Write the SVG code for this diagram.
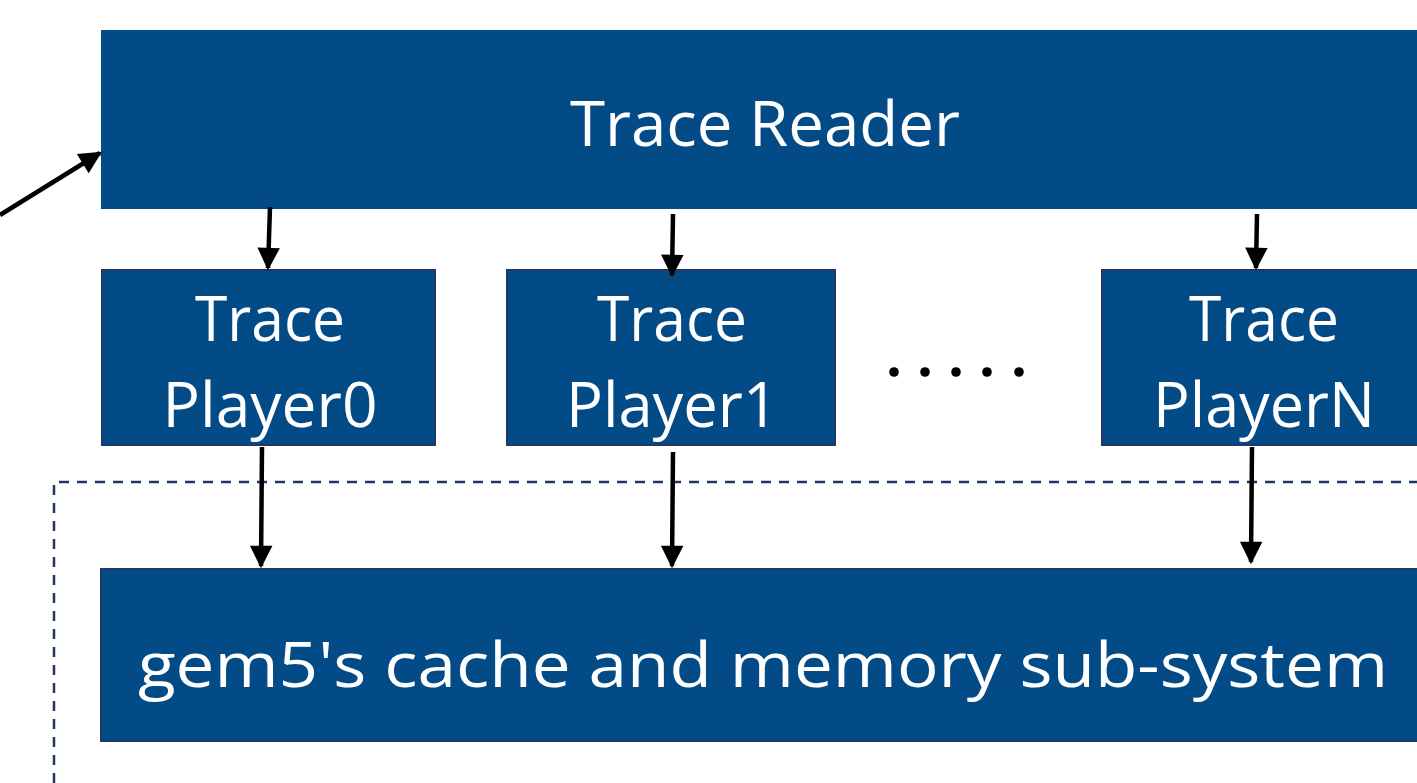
<svg xmlns="http://www.w3.org/2000/svg" width="1417" height="783" viewBox="0 0 1417 783">
<style>
.box{fill:#034B87;stroke:#1F3864;stroke-width:2}
.t{fill:#fff;font-family:"Open Sans","Noto Sans",sans-serif;text-anchor:middle}
.c{stroke:#000;stroke-width:4.5;fill:none;marker-end:url(#ah)}
</style>
<defs>
<marker id="ah" markerWidth="5" markerHeight="5" refX="4.5" refY="2.5" orient="auto" markerUnits="strokeWidth" overflow="visible">
<path d="M0,0 L5,2.5 L0,5 z" fill="#000"/>
</marker>
</defs>
<rect width="1417" height="783" fill="#fff"/>
<g id="subsystem-boundary">
<path d="M54,783 V482 H1417" fill="none" stroke="#1F3864" stroke-width="2.5" stroke-dasharray="10,8"/>
</g>
<g id="trace-reader">
<rect class="box" x="101" y="30" width="1330" height="179" style="stroke:none"/>
<text class="t" x="765" y="146" font-size="63" textLength="390" lengthAdjust="spacingAndGlyphs">Trace Reader</text>
</g>
<g id="player0">
<rect class="box" x="102" y="270" width="333" height="175"/>
<text class="t" x="270" y="341" font-size="63" textLength="150" lengthAdjust="spacingAndGlyphs">Trace</text>
<text class="t" x="270" y="427" font-size="63" textLength="215" lengthAdjust="spacingAndGlyphs">Player0</text>
</g>
<g id="player1">
<rect class="box" x="507" y="270" width="328" height="175"/>
<text class="t" x="672" y="341" font-size="63" textLength="150" lengthAdjust="spacingAndGlyphs">Trace</text>
<text class="t" x="672" y="427" font-size="63" textLength="212" lengthAdjust="spacingAndGlyphs">Player1</text>
</g>
<g id="ellipsis">
<circle cx="894" cy="372" r="4.8" fill="#000"/>
<circle cx="925" cy="372" r="4.8" fill="#000"/>
<circle cx="956" cy="372" r="4.8" fill="#000"/>
<circle cx="987" cy="372" r="4.8" fill="#000"/>
<circle cx="1019" cy="372" r="4.8" fill="#000"/>
</g>
<g id="playerN">
<rect class="box" x="1102" y="270" width="330" height="175"/>
<text class="t" x="1264" y="341" font-size="63" textLength="150" lengthAdjust="spacingAndGlyphs">Trace</text>
<text class="t" x="1264" y="427" font-size="63" textLength="222" lengthAdjust="spacingAndGlyphs">PlayerN</text>
</g>
<g id="memory-subsystem">
<rect class="box" x="101" y="569" width="1330" height="172"/>
<text class="t" x="763" y="687" font-size="63" textLength="1250" lengthAdjust="spacingAndGlyphs">gem5's cache and memory sub-system</text>
</g>
<g id="connectors">
<line class="c" x1="0" y1="215" x2="100" y2="153"/>
<line class="c" x1="270" y1="207" x2="268" y2="268"/>
<line class="c" x1="673" y1="214" x2="672" y2="275"/>
<line class="c" x1="1257" y1="214" x2="1256" y2="268"/>
<line class="c" x1="262" y1="447" x2="261" y2="566"/>
<line class="c" x1="673" y1="452" x2="672" y2="566"/>
<line class="c" x1="1252" y1="447" x2="1251" y2="562"/>
</g>
</svg>
